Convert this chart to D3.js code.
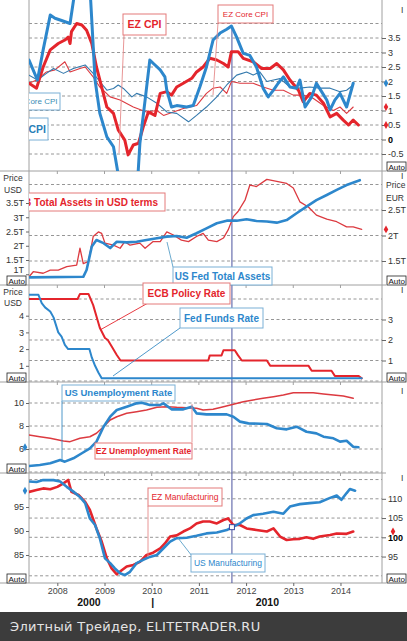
<!DOCTYPE html>
<html><head><meta charset="utf-8">
<script src="https://cdn.jsdelivr.net/npm/d3@7"></script>
<style>
body{margin:0;background:#fff;}
svg{display:block;font-family:"Liberation Sans",Arial,sans-serif;}
</style></head><body>
<svg id="c" width="407" height="641"></svg>
<script>
// ---------- DATA ----------
const years = [2008, 2009, 2010, 2011, 2012, 2013, 2014];
const decadeLabels = [["2000", 2008.67], ["|", 2010.02], ["2010", 2012.45]];
const crossT = 2011.70;
const crossUSMfg = 90.8;

// Panel 1: CPI (% y/y)
const usCPI = [[2007.40,2.74],[2007.58,2.05],[2007.70,3.09],[2007.85,4.29],[2007.95,4.18],[2008.06,4.12],[2008.27,4.0],[2008.38,5.2],[2008.55,5.6],[2008.69,5.3],[2008.80,2.05],[2008.90,0.91],[2009.05,0.09],[2009.19,-0.25],[2009.30,-1.3],[2009.45,-2.0],[2009.60,-1.6],[2009.71,-1.2],[2009.75,-0.13],[2009.86,1.36],[2009.96,2.74],[2010.07,2.57],[2010.18,2.4],[2010.28,2.16],[2010.32,1.7],[2010.42,1.12],[2010.53,1.17],[2010.74,1.12],[2010.88,1.17],[2011.02,1.81],[2011.16,2.5],[2011.30,3.43],[2011.45,3.67],[2011.59,3.8],[2011.69,3.91],[2011.80,3.53],[2011.94,2.97],[2012.08,2.9],[2012.22,2.5],[2012.36,1.77],[2012.47,1.47],[2012.58,1.7],[2012.68,1.94],[2012.79,2.16],[2012.93,1.81],[2013.07,1.77],[2013.14,2.05],[2013.25,1.12],[2013.39,1.47],[2013.49,1.94],[2013.60,1.65],[2013.71,1.36],[2013.78,1.02],[2013.88,1.36],[2013.99,1.59],[2014.13,1.12],[2014.27,1.94]];
const ezCPI = [[2007.40,1.94],[2007.56,1.77],[2007.70,2.5],[2007.85,3.09],[2008.02,3.31],[2008.16,3.43],[2008.23,3.53],[2008.27,3.31],[2008.30,3.72],[2008.41,4.0],[2008.52,3.95],[2008.62,3.77],[2008.73,3.31],[2008.83,2.5],[2008.94,1.81],[2009.05,1.12],[2009.19,0.9],[2009.29,0.33],[2009.43,-0.02],[2009.50,-0.53],[2009.61,-0.19],[2009.72,-0.13],[2009.82,0.43],[2009.93,0.95],[2010.07,0.83],[2010.18,1.59],[2010.32,1.65],[2010.42,1.53],[2010.53,1.81],[2010.67,1.94],[2010.85,2.11],[2010.95,2.33],[2011.09,2.5],[2011.23,2.8],[2011.38,2.74],[2011.52,2.62],[2011.62,2.5],[2011.69,3.03],[2011.83,3.03],[2011.94,2.8],[2012.15,2.68],[2012.33,2.45],[2012.51,2.45],[2012.65,2.62],[2012.79,2.4],[2012.93,2.05],[2013.11,1.7],[2013.21,1.3],[2013.35,1.59],[2013.49,1.53],[2013.64,1.25],[2013.78,0.78],[2013.92,0.9],[2014.06,0.67],[2014.17,0.5],[2014.27,0.67],[2014.38,0.5]];
const usCoreCPI = [[2007.40,2.22],[2007.58,2.05],[2007.77,2.28],[2007.92,2.45],[2008.13,2.28],[2008.34,2.45],[2008.59,2.57],[2008.76,2.28],[2008.90,2.0],[2009.05,1.7],[2009.19,1.76],[2009.29,1.88],[2009.40,1.76],[2009.58,1.47],[2009.68,1.59],[2009.89,1.47],[2010.11,1.25],[2010.32,0.95],[2010.53,0.9],[2010.78,0.61],[2010.95,0.83],[2011.16,1.12],[2011.38,1.47],[2011.59,1.88],[2011.80,2.22],[2012.01,2.33],[2012.15,2.22],[2012.29,2.33],[2012.44,2.0],[2012.58,2.05],[2012.72,2.1],[2012.93,1.81],[2013.14,1.77],[2013.35,1.81],[2013.56,1.77],[2013.78,1.77],[2013.99,1.65],[2014.13,1.7],[2014.27,1.88]];
const ezCoreCPI = [[2007.40,1.94],[2007.56,2.05],[2007.77,2.33],[2007.95,2.4],[2008.16,2.68],[2008.27,2.33],[2008.48,2.45],[2008.59,2.5],[2008.76,2.16],[2008.90,1.81],[2009.12,1.47],[2009.33,1.36],[2009.61,1.12],[2009.89,0.95],[2010.11,1.0],[2010.25,0.83],[2010.46,0.95],[2010.67,1.07],[2010.95,1.17],[2011.16,1.59],[2011.30,1.77],[2011.45,1.81],[2011.59,1.59],[2011.69,2.0],[2011.87,1.94],[2012.15,1.94],[2012.36,1.81],[2012.58,1.7],[2012.79,1.7],[2013.00,1.53],[2013.21,1.53],[2013.42,1.42],[2013.64,1.17],[2013.85,1.0],[2013.99,1.12],[2014.13,0.9],[2014.27,1.12]];
const p1Ticks = [-0.5,0,0.5,1,1.5,2,2.5,3,3.5];
const p1Grid = [-0.5,0,0.5,1,1.5,2,2.5,3,3.5,4];

// Panel 2: balance sheets (trillions)
const fedAssets = [[2007.40,0.89],[2008.55,0.91],[2008.62,1.15],[2008.73,1.97],[2008.83,2.2],[2008.98,2.09],[2009.12,1.92],[2009.26,2.14],[2009.47,2.12],[2009.68,2.14],[2009.89,2.2],[2010.11,2.26],[2010.32,2.32],[2010.53,2.34],[2010.74,2.28],[2010.95,2.44],[2011.16,2.61],[2011.38,2.79],[2011.59,2.88],[2011.80,2.88],[2012.01,2.93],[2012.22,2.87],[2012.44,2.85],[2012.65,2.81],[2012.86,2.9],[2013.07,3.14],[2013.28,3.37],[2013.49,3.6],[2013.71,3.78],[2013.92,3.96],[2014.13,4.13],[2014.41,4.3]];
const ecbAssets = [[2007.40,1.19],[2007.49,1.29],[2007.70,1.26],[2007.85,1.32],[2008.02,1.32],[2008.20,1.39],[2008.41,1.42],[2008.48,1.75],[2008.55,1.45],[2008.66,1.49],[2008.76,1.98],[2008.87,2.07],[2008.94,2.04],[2009.01,1.85],[2009.19,1.81],[2009.33,1.75],[2009.43,1.88],[2009.54,1.81],[2009.75,1.85],[2009.86,1.75],[2010.03,1.88],[2010.18,1.88],[2010.32,2.07],[2010.46,2.01],[2010.63,1.91],[2010.78,1.88],[2010.95,1.98],[2011.09,2.04],[2011.20,1.91],[2011.38,1.88],[2011.52,1.95],[2011.62,2.11],[2011.73,2.37],[2011.83,2.47],[2011.98,2.7],[2012.08,2.99],[2012.22,2.96],[2012.44,3.1],[2012.65,3.06],[2012.86,3.02],[2013.00,2.93],[2013.14,2.66],[2013.32,2.56],[2013.49,2.4],[2013.71,2.32],[2013.92,2.27],[2014.13,2.17],[2014.27,2.17],[2014.45,2.12]];
const p2LeftTicks = [1,1.5,2,2.5,3,3.5];
const p2RightTicks = [1.5,2,2.5];
const p2Grid = [1.5,2,2.5,3];

// Panel 3: policy rates (%)
const fedFunds = [[2007.40,5.25],[2007.60,5.25],[2007.67,4.75],[2007.74,4.5],[2007.85,4.25],[2007.92,3.9],[2008.02,3.0],[2008.09,2.75],[2008.16,2.25],[2008.23,2.0],[2008.68,2.0],[2008.73,1.5],[2008.80,1.0],[2008.87,0.6],[2008.94,0.25],[2014.45,0.25]];
const ecbRate = [[2007.40,4.0],[2008.43,4.0],[2008.48,4.25],[2008.66,4.25],[2008.76,3.7],[2008.90,2.6],[2009.01,2.1],[2009.07,2.0],[2009.15,1.7],[2009.26,1.27],[2009.34,1.0],[2011.20,1.0],[2011.23,1.25],[2011.48,1.25],[2011.52,1.5],[2011.76,1.5],[2011.83,1.25],[2011.91,1.0],[2012.44,1.0],[2012.51,0.75],[2013.32,0.75],[2013.39,0.5],[2013.81,0.5],[2013.88,0.25],[2014.38,0.25],[2014.45,0.13]];
const p3LeftTicks = [1,2,3,4];
const p3RightTicks = [1,2,3];
const p3Grid = [0,1,2,3,4];

// Panel 4: unemployment (%)
const usUnemp = [[2007.40,4.52],[2007.63,4.61],[2007.85,4.76],[2008.06,5.04],[2008.16,4.9],[2008.34,5.19],[2008.52,5.63],[2008.69,6.06],[2008.83,6.64],[2008.98,7.94],[2009.12,8.81],[2009.26,9.39],[2009.47,9.68],[2009.68,9.97],[2009.79,10.03],[2009.96,9.83],[2010.18,9.83],[2010.25,9.97],[2010.42,9.45],[2010.67,9.45],[2010.85,9.68],[2010.95,9.1],[2011.16,9.01],[2011.38,9.01],[2011.59,9.01],[2011.73,8.81],[2011.87,8.38],[2012.05,8.23],[2012.44,8.17],[2012.65,7.8],[2012.86,7.71],[2013.07,7.94],[2013.28,7.5],[2013.49,7.36],[2013.64,7.07],[2013.85,6.93],[2013.99,6.64],[2014.13,6.72],[2014.27,6.2],[2014.38,6.15]];
const ezUnemp = [[2007.40,7.3],[2007.63,7.11],[2007.85,6.93],[2008.13,6.63],[2008.27,6.56],[2008.48,6.93],[2008.69,7.11],[2008.83,7.49],[2008.98,8.22],[2009.12,8.97],[2009.26,9.33],[2009.47,9.71],[2009.68,9.89],[2009.89,10.08],[2010.11,10.38],[2010.32,10.45],[2010.53,10.38],[2010.74,10.34],[2010.95,10.27],[2011.09,10.08],[2011.30,10.15],[2011.52,10.45],[2011.73,10.71],[2011.94,11.0],[2012.15,11.19],[2012.36,11.38],[2012.58,11.56],[2012.79,11.74],[2013.00,12.0],[2013.21,12.0],[2013.42,12.0],[2013.64,11.86],[2013.85,11.74],[2014.06,11.63],[2014.27,11.38]];
const p4LeftTicks = [6,8,10];
const p4Grid = [4,6,8,10];

// Panel 5: manufacturing (index)
const usMfg = [[2007.40,100.3],[2007.56,100.2],[2007.70,100.6],[2007.92,100.6],[2008.06,100.3],[2008.20,99.2],[2008.34,98.2],[2008.48,97.1],[2008.59,95.8],[2008.69,92.6],[2008.80,91.25],[2008.90,88.5],[2009.01,84.3],[2009.12,83.3],[2009.22,82.2],[2009.33,81.2],[2009.43,80.8],[2009.54,81.5],[2009.68,83.3],[2009.82,84.0],[2009.96,84.6],[2010.11,85.0],[2010.25,86.4],[2010.39,87.8],[2010.53,88.5],[2010.74,88.6],[2010.95,89.0],[2011.16,89.5],[2011.38,89.7],[2011.59,90.2],[2011.73,90.9],[2011.87,91.6],[2012.01,92.6],[2012.15,93.3],[2012.36,93.6],[2012.58,94.0],[2012.79,93.6],[2012.93,95.1],[2013.14,95.6],[2013.35,95.8],[2013.56,96.0],[2013.78,96.9],[2013.92,97.4],[2014.02,96.5],[2014.13,97.9],[2014.20,98.75],[2014.31,98.4]];
const ezMfg = [[2007.40,111.8],[2007.56,112.3],[2007.70,112.7],[2007.85,112.5],[2008.00,113.1],[2008.13,114.0],[2008.23,114.9],[2008.30,111.8],[2008.45,111.0],[2008.59,109.2],[2008.69,107.1],[2008.83,102.3],[2008.94,98.9],[2009.05,94.5],[2009.15,91.9],[2009.26,90.4],[2009.33,91.1],[2009.47,92.4],[2009.61,92.8],[2009.75,93.6],[2009.89,95.4],[2010.03,96.0],[2010.18,97.1],[2010.28,98.4],[2010.39,100.2],[2010.53,100.5],[2010.67,101.5],[2010.81,102.3],[2010.95,103.6],[2011.09,104.1],[2011.23,104.1],[2011.38,103.6],[2011.52,104.5],[2011.62,104.9],[2011.73,103.2],[2011.87,103.2],[2012.01,102.3],[2012.22,101.9],[2012.44,101.5],[2012.58,102.3],[2012.72,100.2],[2012.86,99.3],[2013.00,99.5],[2013.14,99.6],[2013.28,100.0],[2013.42,99.6],[2013.56,100.2],[2013.78,100.6],[2013.92,101.0],[2014.13,100.9],[2014.27,101.5]];
const p5LeftTicks = [85,90,95];
const p5RightTicks = [95,100,105,110];
const p5Grid = [90,95,100,105,110,115];

// ---------- LAYOUT ----------
const X0 = 29, X1 = 382;
const RED = "#e4252c", BLUE = "#2d87cc", THINBLUE = "#3379ad", THINRED = "#dc3a40";
const RBOX = "#e47a7a", BBOX = "#7ab0d6";
const panels = [{top:0,bottom:171},{top:171,bottom:285},{top:285,bottom:382},{top:382,bottom:473},{top:473,bottom:583}];

const x = d3.scaleLinear().domain([2007.4, 2014.88]).range([X0, X1]);
const y1 = d3.scaleLinear().domain([0, 3.5]).range([139.5, 38]);
const y2L = d3.scaleLinear().domain([1.5, 3.5]).range([260, 203]);
const y2R = d3.scaleLinear().domain([1.5, 2.5]).range([261, 210]);
const y3L = d3.scaleLinear().domain([0, 4]).range([382.5, 315.7]);
const y3R = d3.scaleLinear().domain([0, 3]).range([381, 319.5]);
const y4L = d3.scaleLinear().domain([6, 10]).range([449, 403]);
const y4R = d3.scaleLinear().domain([7.3, 12]).range([435, 392.7]);
const y5L = d3.scaleLinear().domain([85, 95]).range([555, 507]);
const y5R = d3.scaleLinear().domain([95, 110]).range([556.55, 498.8]);

const svg = d3.select("#c");
const defs = svg.append("defs");
panels.forEach((p,i)=>{
  defs.append("clipPath").attr("id","cp"+i).append("rect")
    .attr("x",X0).attr("y",p.top).attr("width",X1-X0).attr("height",p.bottom-p.top);
});
defs.append("clipPath").attr("id","cpAll").append("rect").attr("x",X0).attr("y",0).attr("width",X1-X0).attr("height",583);

svg.append("rect").attr("width",407).attr("height",641).attr("fill","#fff");

// grid
function grid(vals, ys){
  svg.append("g").selectAll("line").data(vals).join("line")
    .attr("x1",X0).attr("x2",X1).attr("y1",d=>ys(d)).attr("y2",d=>ys(d))
    .attr("stroke","#8a8a8a").attr("stroke-width",0.9).attr("stroke-dasharray","3,2.5");
}
grid(p1Grid,y1); grid(p2Grid,y2R); grid(p3Grid,y3R); grid(p4Grid,y4L); grid(p5Grid,y5R);

// frame
const fr = svg.append("g").attr("stroke","#a0a0a0").attr("stroke-width",1);
fr.append("line").attr("x1",X0).attr("x2",X0).attr("y1",0).attr("y2",583);
fr.append("line").attr("x1",X1).attr("x2",X1).attr("y1",0).attr("y2",583);
panels.forEach((p,i)=>{
  fr.append("line").attr("x1",0).attr("x2",386).attr("y1",p.bottom).attr("y2",p.bottom);
  if(i>0){
    fr.selectAll(null).data(years).join("line").attr("x1",d=>x(d)).attr("x2",d=>x(d))
      .attr("y1",p.top).attr("y2",p.top+3);
  }
});

// axes
function styleAxis(g, bold){
  g.select(".domain").remove();
  g.selectAll("line").attr("stroke","#666");
  g.selectAll("text").attr("fill","#333").style("font-size","9px");
  if(bold) g.selectAll("text").filter(d=>bold.includes(d)).style("font-weight","bold").attr("fill","#000");
  return g;
}
function rightAxis(ys, ticks, fmt, bold){
  const g = svg.append("g").attr("transform",`translate(${X1},0)`)
    .call(d3.axisRight(ys).tickValues(ticks).tickSize(4).tickPadding(2).tickFormat(fmt));
  return styleAxis(g,bold);
}
function leftAxis(ys, ticks, fmt){
  const g = svg.append("g").attr("transform",`translate(${X0},0)`)
    .call(d3.axisLeft(ys).tickValues(ticks).tickSize(3).tickPadding(2).tickFormat(fmt));
  return styleAxis(g);
}
const tfmt = d=> d + "T";
rightAxis(y1, p1Ticks, d=>d, [0]);
const ax2 = leftAxis(y2L, p2LeftTicks, tfmt);
ax2.selectAll("text").filter(d=>d===1).attr("dy","-0.15em");
rightAxis(y2R, p2RightTicks, tfmt);
leftAxis(y3L, p3LeftTicks, d=>d);
rightAxis(y3R, p3RightTicks, d=>d);
leftAxis(y4L, p4LeftTicks, d=>d);
leftAxis(y5L, p5LeftTicks, d=>d);
rightAxis(y5R, p5RightTicks, d=>d, [100]);

// bottom axis
const bx = svg.append("g").attr("transform","translate(0,583)")
  .call(d3.axisBottom(x).tickValues(years).tickSize(3).tickPadding(2).tickFormat(d3.format("d")));
styleAxis(bx);
bx.selectAll("text").attr("fill","#444");
svg.append("g").selectAll("text").data(decadeLabels).join("text")
  .attr("x",d=>x(d[1])).attr("y",606).attr("text-anchor","middle")
  .style("font-size","10.5px").style("font-weight","bold").attr("fill","#111").text(d=>d[0]);

// small side texts
const st = svg.append("g").style("font-size","8.5px").attr("fill","#333");
st.append("text").attr("x",13).attr("y",181).attr("text-anchor","middle").text("Price");
st.append("text").attr("x",13).attr("y",193).attr("text-anchor","middle").text("USD");
st.append("text").attr("x",13).attr("y",295).attr("text-anchor","middle").text("Price");
st.append("text").attr("x",13).attr("y",306).attr("text-anchor","middle").text("USD");
st.append("text").attr("x",386).attr("y",188).text("Price");
st.append("text").attr("x",386).attr("y",201).text("EUR");
[13,179,293,394,481].forEach(yy=> st.append("text").attr("x",401).attr("y",yy).text("I"));

// Auto boxes
function auto(xx, yy){
  svg.append("rect").attr("x",xx).attr("y",yy).attr("width",19).attr("height",9)
    .attr("fill","#fff").attr("stroke","#222").attr("stroke-width",0.8);
  svg.append("text").attr("x",xx+1.5).attr("y",yy+7.5).style("font-size","8px").attr("fill","#111").text("Auto");
}
[1,2,3,4].forEach(i=>auto(7, panels[i].bottom-9));
[0,1,2,4].forEach(i=>auto(387, panels[i].bottom-9));

// crosshair
svg.append("line").attr("x1",x(crossT)).attr("x2",x(crossT)).attr("y1",y1(3.91)).attr("y2",583)
  .attr("stroke","#4b539e").attr("stroke-width",1);

// lines
function drawLine(i, data, ys, color, w){
  svg.append("path").datum(data).attr("clip-path",`url(#cp${i})`)
    .attr("fill","none").attr("stroke",color).attr("stroke-width",w)
    .attr("stroke-linejoin","round").attr("stroke-linecap","round")
    .attr("d", d3.line().x(d=>x(d[0])).y(d=>ys(d[1])));
}
drawLine(0, ezCoreCPI, y1, THINRED, 1.1);
drawLine(0, usCoreCPI, y1, THINBLUE, 1.1);
drawLine(0, ezCPI, y1, RED, 3);
drawLine(0, usCPI, y1, BLUE, 3);
drawLine(1, ecbAssets, y2R, THINRED, 1.3);
drawLine(1, fedAssets, y2L, BLUE, 2.6);
drawLine(2, ecbRate, y3R, RED, 2);
drawLine(2, fedFunds, y3L, BLUE, 2);
drawLine(3, ezUnemp, y4R, THINRED, 1.5);
drawLine(3, usUnemp, y4L, BLUE, 2.6);
drawLine(4, ezMfg, y5R, RED, 2.6);
drawLine(4, usMfg, y5L, BLUE, 2.6);

// crosshair marker
svg.append("rect").attr("x",x(crossT)-2.5).attr("y",y5L(crossUSMfg)-2.5).attr("width",5).attr("height",5)
  .attr("fill","#fff").attr("stroke","#3b4aa0").attr("stroke-width",1);

// end markers on axes
const dia = d3.symbol().type(d3.symbolDiamond).size(18);
function marker(xx, yy, c){ svg.append("path").attr("d",dia()).attr("transform",`translate(${xx},${yy})`).attr("fill",c); }
const last = a => a[a.length-1][1];
marker(386, y1(last(usCPI)), BLUE);
marker(386, y1(last(ezCoreCPI)), RED);
marker(386, y1(last(ezCPI)), RED);
marker(386, y2R(last(ecbAssets)), RED);
marker(25, y4L(last(usUnemp)), BLUE);
marker(25, y5L(last(usMfg)), BLUE);
marker(393, y5R(last(ezMfg)), RED);

// labels with leader lines
const lab = svg.append("g").attr("clip-path","url(#cpAll)");
function leader(x1,y1_,x2,y2,c){ lab.append("line").attr("x1",x1).attr("y1",y1_).attr("x2",x2).attr("y2",y2).attr("stroke",c).attr("stroke-width",0.9); }
function box(bx0,by0,bx1,by1,txt,col,bcol,fs,fw,anchor,tx){
  lab.append("rect").attr("x",bx0).attr("y",by0).attr("width",bx1-bx0).attr("height",by1-by0)
    .attr("fill","#fff").attr("stroke",bcol).attr("stroke-width",1);
  lab.append("text").attr("x",tx!==undefined?tx:(bx0+bx1)/2).attr("y",(by0+by1)/2+fs*0.36)
    .attr("text-anchor",anchor||"middle").style("font-size",fs+"px").style("font-weight",fw).attr("fill",col).text(txt);
}
leader(124,35,119,153,"#e58a8a");
leader(218,23,213,95,"#e58a8a");
leader(173,267,167,242,"#5aa0c8");
leader(148,303,100,330,RED);
leader(180,328,113,376,"#3a8cc4");
leader(62,401,62,462,"#3a8cc4");
leader(192,442,192,404,"#e58a8a");
leader(148,506,148,557,"#e58a8a");
leader(192,556,178,538,"#5aa0c8");

box(5,93,60,110,"US Core CPI","#3a8eb5",BBOX,8,"normal","end",57.5);
box(5,118,48,140,"US CPI","#2a7fb8",BBOX,10.5,"bold","end",46);
box(123,14,166,35,"EZ CPI",RED,RBOX,10.5,"bold");
box(218,5,273,23,"EZ Core CPI",RED,RBOX,8,"normal");
box(5,193,165,211,"ECB Total Assets in USD terms",RED,RBOX,10,"bold","end",158);
box(173,267,272,285,"US Fed Total Assets",BLUE,BBOX,10,"bold");
box(143,283,230,304,"ECB Policy Rate",RED,RBOX,10,"bold");
box(180,308,263,328,"Fed Funds Rate",BLUE,BBOX,10,"bold");
box(62,385,175,401,"US Unemployment Rate",BLUE,BBOX,9.5,"bold");
box(95,443,192,459,"EZ Unemployment Rate",RED,RBOX,8.5,"bold");
box(148,488,222,506,"EZ Manufacturing",RED,RBOX,8.5,"normal");
box(191,554,265,572,"US Manufacturing",BLUE,BBOX,8.5,"normal");

// footer
svg.append("rect").attr("x",0).attr("y",612).attr("width",407).attr("height",29).attr("fill","#3c3c3c");
svg.append("text").attr("x",10).attr("y",631).style("font-family","'DejaVu Sans',sans-serif")
  .style("font-size","13px").style("letter-spacing","0.3px").attr("fill","#e4e4e4").text("Элитный Трейдер, ELITETRADER.RU");
</script>
</body></html>
